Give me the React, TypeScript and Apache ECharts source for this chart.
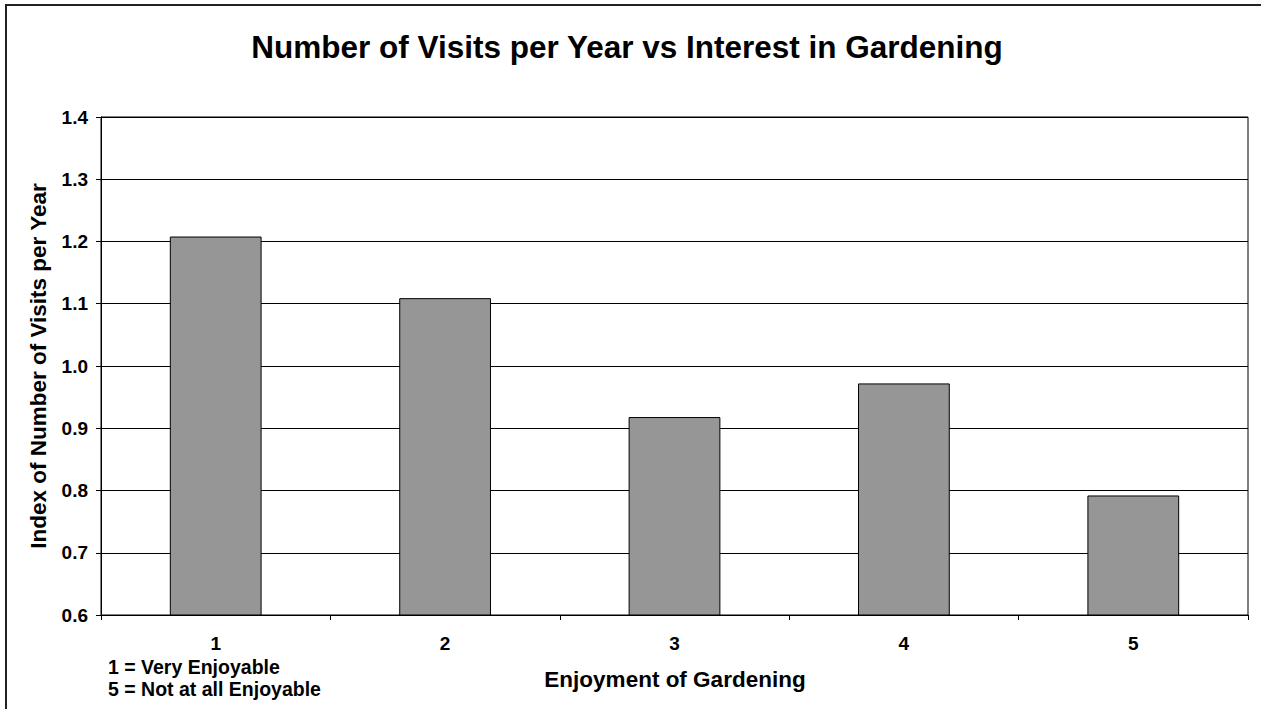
import React, { useEffect, useRef } from "react";
import * as echarts from "echarts";

// Enjoyment rating (1 = very enjoyable ... 5 = not at all enjoyable)
const categories = ["1", "2", "3", "4", "5"];
// Index of number of visits per year for each rating
const visitIndex = [1.208, 1.109, 0.918, 0.972, 0.792];

const titleText = "Number of Visits per Year vs Interest in Gardening";
const xTitle = "Enjoyment of Gardening";
const yTitle = "Index of Number of Visits per Year";
const noteLines = ["1 = Very Enjoyable", "5 = Not at all Enjoyable"];

const FONT = "'Liberation Sans', Arial, sans-serif";

export default function App() {
  const ref = useRef<HTMLDivElement>(null);

  useEffect(() => {
    if (!ref.current) return;
    const chart = echarts.init(ref.current, undefined, { renderer: "svg" });
    chart.setOption({
      animation: false,
      backgroundColor: "#ffffff",
      grid: {
        left: 101,
        top: 117,
        width: 1147,
        height: 498,
        show: true,
        borderColor: "#000",
        borderWidth: 1,
        backgroundColor: "transparent",
      },
      xAxis: {
        type: "category",
        data: categories,
        boundaryGap: true,
        axisLine: { lineStyle: { color: "#000", width: 1 } },
        axisTick: { show: true, length: 5, lineStyle: { color: "#000" } },
        axisLabel: {
          color: "#000",
          fontFamily: FONT,
          fontWeight: "bold",
          fontSize: 19,
          margin: 19,
        },
      },
      yAxis: {
        type: "value",
        min: 0.6,
        max: 1.4,
        interval: 0.1,
        axisLine: { show: true, lineStyle: { color: "#000", width: 1 } },
        axisTick: { show: true, length: 5, lineStyle: { color: "#000" } },
        axisLabel: {
          color: "#000",
          fontFamily: FONT,
          fontWeight: "bold",
          fontSize: 19,
          margin: 13,
          formatter: (v: number) => v.toFixed(1),
        },
        splitLine: { show: true, lineStyle: { color: "#000", width: 1 } },
      },
      series: [
        {
          type: "bar",
          data: visitIndex,
          barWidth: "40%",
          itemStyle: { color: "#969696", borderColor: "#000", borderWidth: 1 },
        },
      ],
      graphic: [
        {
          type: "rect",
          shape: { x: 6, y: 5, width: 1300, height: 800 },
          style: { fill: "none", stroke: "#222", lineWidth: 2 },
          silent: true,
        },
        {
          type: "text",
          x: 627,
          y: 47,
          style: {
            text: titleText,
            fill: "#000",
            font: `bold 31.5px ${FONT}`,
            align: "center",
            verticalAlign: "middle",
          },
        },
        {
          type: "text",
          x: 675,
          y: 679,
          style: {
            text: xTitle,
            fill: "#000",
            font: `bold 22.5px ${FONT}`,
            align: "center",
            verticalAlign: "middle",
          },
        },
        {
          type: "text",
          x: 38,
          y: 366,
          rotation: Math.PI / 2,
          style: {
            text: yTitle,
            fill: "#000",
            font: `bold 22.5px ${FONT}`,
            align: "center",
            verticalAlign: "middle",
          },
        },
        {
          type: "text",
          x: 108,
          y: 667,
          style: {
            text: noteLines[0],
            fill: "#000",
            font: `bold 19.5px ${FONT}`,
            align: "left",
            verticalAlign: "middle",
          },
        },
        {
          type: "text",
          x: 108,
          y: 689,
          style: {
            text: noteLines[1],
            fill: "#000",
            font: `bold 19.5px ${FONT}`,
            align: "left",
            verticalAlign: "middle",
          },
        },
      ],
    });
    return () => chart.dispose();
  }, []);

  return (
    <div
      ref={ref}
      style={{ position: "absolute", left: 0, top: 0, width: 1261, height: 709 }}
    />
  );
}
